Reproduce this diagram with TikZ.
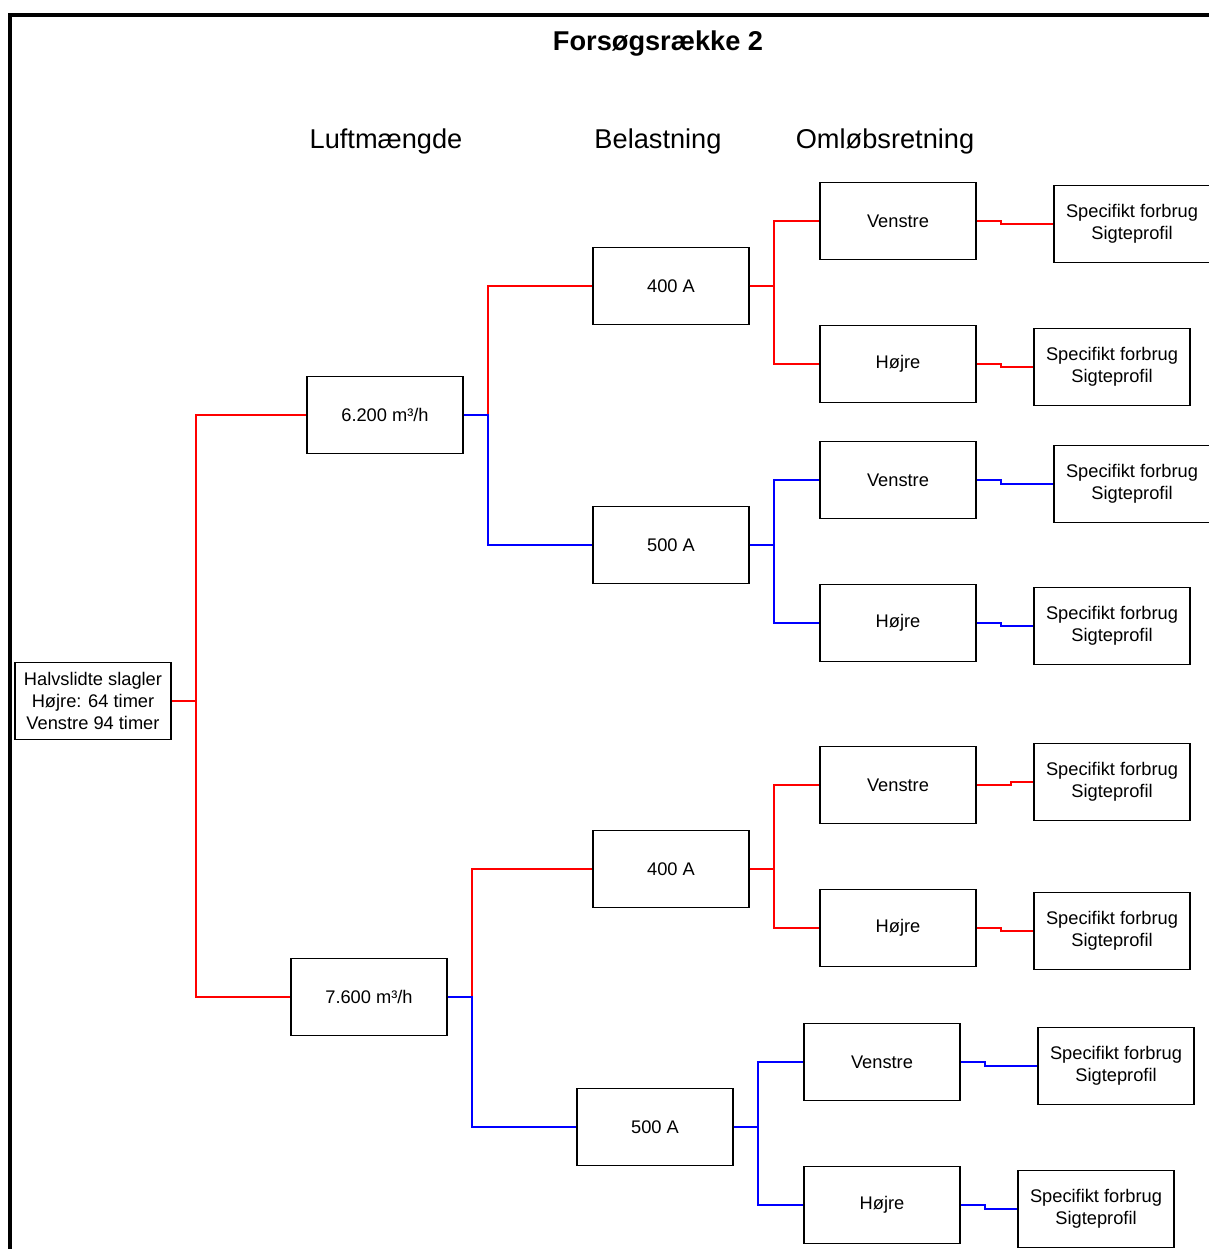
\documentclass[tikz,border=0pt]{standalone}
\usepackage{fontspec}
\setmainfont{Liberation Sans}
\begin{document}
\begin{tikzpicture}[x=0.75pt,y=-0.75pt,
  box/.style={draw=black,line width=1.1pt,minimum width=117pt,minimum height=58pt,inner sep=0pt,align=center,font=\fontsize{13.7}{16.5}\selectfont},
  hdr/.style={font=\fontsize{20.4}{24}\selectfont},
  rl/.style={draw={rgb,255:red,255;green,0;blue,0},line width=1.35pt},
  bl/.style={draw={rgb,255:red,0;green,0;blue,255},line width=1.35pt}]
\useasboundingbox (0,0) rectangle (1208,1249);
\fill[white] (0,0) rectangle (1208,1249);
\draw[line width=2.3pt] (10,15) rectangle (1240,1280);
\node[hdr,font=\fontsize{20.4}{24}\selectfont\bfseries] (title) at (658,44) {Forsøgsrække 2};
\node[hdr] (h1) at (386,141) {Luftmængde};
\node[hdr] (h2) at (658,141) {Belastning};
\node[hdr] (h3) at (885,141) {Omløbsretning};

\node[box] (root) at (93,701) {Halvslidte slagler\\Højre: 64 timer\\Venstre 94 timer};
\node[box] (a1) at (385,415) {6.200 m³/h};
\node[box] (a2) at (369,997) {7.600 m³/h};
\node[box] (b1) at (671,286) {400 A};
\node[box] (b2) at (671,545) {500 A};
\node[box] (b3) at (671,869) {400 A};
\node[box] (b4) at (655,1127) {500 A};
\node[box] (v1) at (898,221) {Venstre};
\node[box] (r1) at (898,364) {Højre};
\node[box] (v2) at (898,480) {Venstre};
\node[box] (r2) at (898,623) {Højre};
\node[box] (v3) at (898,785) {Venstre};
\node[box] (r3) at (898,928) {Højre};
\node[box] (v4) at (882,1062) {Venstre};
\node[box] (r4) at (882,1205) {Højre};
\node[box] (s1) at (1132,224) {Specifikt forbrug\\Sigteprofil};
\node[box] (s2) at (1112,367) {Specifikt forbrug\\Sigteprofil};
\node[box] (s3) at (1132,484) {Specifikt forbrug\\Sigteprofil};
\node[box] (s4) at (1112,626) {Specifikt forbrug\\Sigteprofil};
\node[box] (s5) at (1112,782) {Specifikt forbrug\\Sigteprofil};
\node[box] (s6) at (1112,931) {Specifikt forbrug\\Sigteprofil};
\node[box] (s7) at (1116,1066) {Specifikt forbrug\\Sigteprofil};
\node[box] (s8) at (1096,1209) {Specifikt forbrug\\Sigteprofil};

\draw[rl] (root.east) -- ++(24,0) |- (a1.west);
\draw[rl] (root.east) -- ++(24,0) |- (a2.west);
\draw[rl] (a1.east) -- ++(24,0) |- (b1.west);
\draw[bl] (a1.east) -- ++(24,0) |- (b2.west);
\draw[rl] (a2.east) -- ++(24,0) |- (b3.west);
\draw[bl] (a2.east) -- ++(24,0) |- (b4.west);
\draw[rl] (b1.east) -- ++(24,0) |- (v1.west);
\draw[rl] (b1.east) -- ++(24,0) |- (r1.west);
\draw[bl] (b2.east) -- ++(24,0) |- (v2.west);
\draw[bl] (b2.east) -- ++(24,0) |- (r2.west);
\draw[rl] (b3.east) -- ++(24,0) |- (v3.west);
\draw[rl] (b3.east) -- ++(24,0) |- (r3.west);
\draw[bl] (b4.east) -- ++(24,0) |- (v4.west);
\draw[bl] (b4.east) -- ++(24,0) |- (r4.west);
\draw[rl] (v1.east) -- ++(24,0) |- (s1.west);
\draw[rl] (r1.east) -- ++(24,0) |- (s2.west);
\draw[bl] (v2.east) -- ++(24,0) |- (s3.west);
\draw[bl] (r2.east) -- ++(24,0) |- (s4.west);
\draw[rl] (v3.east) -- ++(34,0) |- (s5.west);
\draw[rl] (r3.east) -- ++(24,0) |- (s6.west);
\draw[bl] (v4.east) -- ++(24,0) |- (s7.west);
\draw[bl] (r4.east) -- ++(24,0) |- (s8.west);
\end{tikzpicture}
\end{document}
